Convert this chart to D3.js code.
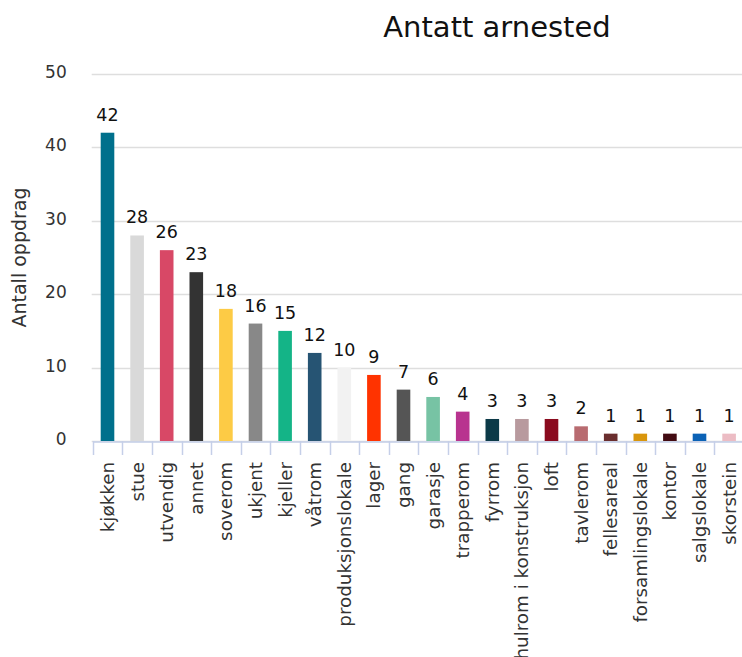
<!DOCTYPE html>
<html>
<head>
<meta charset="utf-8">
<script src="https://cdn.jsdelivr.net/npm/d3@7"></script>
<style>
  html, body { margin: 0; padding: 0; background: #ffffff; overflow: hidden; }
  svg { display: block; font-family: "DejaVu Sans", Verdana, sans-serif; }
</style>
</head>
<body>
<svg id="chart" width="742" height="657"></svg>
<script>
// Fire origin locations and number of call-outs
const categories = [
  "kjøkken", "stue", "utvendig", "annet", "soverom", "ukjent", "kjeller",
  "våtrom", "produksjonslokale", "lager", "gang", "garasje", "trapperom",
  "fyrrom", "hulrom i konstruksjon", "loft", "tavlerom", "fellesareal",
  "forsamlingslokale", "kontor", "salgslokale", "skorstein"
];
const values = [42, 28, 26, 23, 18, 16, 15, 12, 10, 9, 7, 6, 4, 3, 3, 3, 2, 1, 1, 1, 1, 1];
const barColors = [
  "#00708c", "#d9d9d9", "#d84866", "#333333", "#fdcb45", "#888888", "#14b487",
  "#265473", "#f2f2f2", "#ff3300", "#555555", "#77c3a4", "#b8338f",
  "#0c3a48", "#b89a9e", "#8a0a1e", "#b86b70", "#6a2e2e",
  "#d9960c", "#420b12", "#0b62b6", "#ecbcc4"
];
const yTicks = [0, 10, 20, 30, 40, 50];
const titleText = "Antatt arnested";
const yAxisTitle = "Antall oppdrag";

const svg = d3.select("#chart");

// Plot area
const plotLeft = 92.7, plotBottom = 441, plotTop = 74;
const bandW = 29.6;
const plotRight = plotLeft + bandW * categories.length;

const x = d3.scaleBand()
  .domain(categories)
  .range([plotLeft, plotRight])
  .paddingInner(0)
  .paddingOuter(0);

const y = d3.scaleLinear()
  .domain([0, 50])
  .range([plotBottom, plotTop]);

// Horizontal grid lines
svg.append("g")
  .selectAll("line")
  .data(yTicks)
  .join("line")
  .attr("x1", plotLeft - 1)
  .attr("x2", 742)
  .attr("y1", d => Math.round(y(d)) + 0.5)
  .attr("y2", d => Math.round(y(d)) + 0.5)
  .attr("stroke", "#dedede")
  .attr("stroke-width", 1.4);

// Y axis labels
const yAxis = d3.axisLeft(y).tickValues(yTicks).tickSize(0).tickPadding(0);
const yG = svg.append("g")
  .attr("transform", `translate(${plotLeft - 26},0)`)
  .call(yAxis);
yG.select(".domain").remove();
yG.selectAll("text")
  .attr("font-family", "DejaVu Sans, sans-serif")
  .attr("font-size", 17)
  .attr("fill", "#333")
  .attr("dy", "0.2em");

// Y axis title
svg.append("text")
  .attr("transform", `translate(26,${(plotTop + plotBottom) / 2}) rotate(-90)`)
  .attr("text-anchor", "middle")
  .attr("font-size", 19)
  .attr("fill", "#333")
  .text(yAxisTitle);

// Bars
const barW = 13.6;
svg.append("g")
  .selectAll("rect")
  .data(values)
  .join("rect")
  .attr("x", (d, i) => x(categories[i]) + x.bandwidth() / 2 - barW / 2)
  .attr("y", d => y(d))
  .attr("width", barW)
  .attr("height", d => plotBottom - y(d))
  .attr("fill", (d, i) => barColors[i]);

// Value labels
svg.append("g")
  .selectAll("text")
  .data(values)
  .join("text")
  .attr("x", (d, i) => x(categories[i]) + x.bandwidth() / 2)
  .attr("y", d => y(d) - 12)
  .attr("text-anchor", "middle")
  .attr("font-size", 17.5)
  .attr("fill", "#111")
  .text(d => d);

// X axis
const xAxis = d3.axisBottom(x).tickSize(0).tickFormat("");
const xG = svg.append("g")
  .attr("transform", `translate(0,${plotBottom + 0.5})`)
  .call(xAxis);
xG.select(".domain").attr("stroke", "#c5cfe8").attr("stroke-width", 1.5);
xG.selectAll(".tick").remove();

// Tick marks at category boundaries
const edges = categories.map(c => x(c)).concat([plotRight]);
svg.append("g")
  .selectAll("line")
  .data(edges)
  .join("line")
  .attr("x1", d => Math.round(d) + 0.5)
  .attr("x2", d => Math.round(d) + 0.5)
  .attr("y1", plotBottom)
  .attr("y2", plotBottom + 14)
  .attr("stroke", "#c5cfe8")
  .attr("stroke-width", 1.5);

// Category labels, rotated
svg.append("g")
  .selectAll("text")
  .data(categories)
  .join("text")
  .attr("transform", d => `translate(${x(d) + x.bandwidth() / 2},${plotBottom + 21}) rotate(-90)`)
  .attr("text-anchor", "end")
  .attr("dy", "0.35em")
  .attr("font-size", 18.3)
  .attr("fill", "#333")
  .text(d => d);

// Title
svg.append("text")
  .attr("x", 497)
  .attr("y", 37)
  .attr("text-anchor", "middle")
  .attr("font-size", 29)
  .attr("fill", "#111")
  .text(titleText);
</script>
</body>
</html>
